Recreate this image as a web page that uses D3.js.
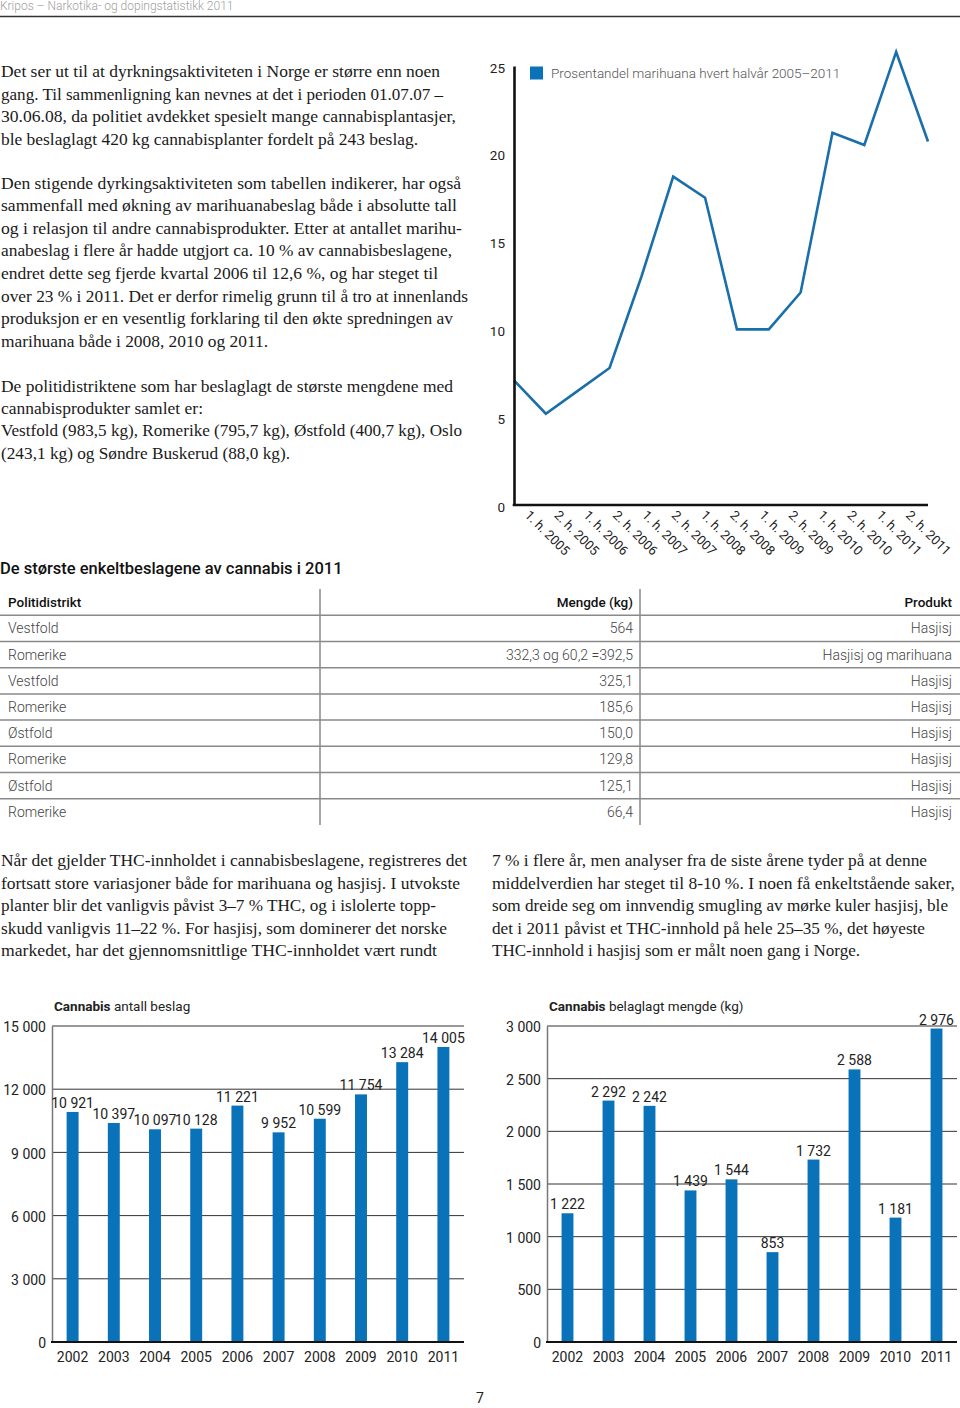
<!DOCTYPE html>
<html><head><meta charset="utf-8">
<script src="https://cdnjs.cloudflare.com/ajax/libs/d3/7.8.5/d3.min.js"></script>
<style>body{margin:0;background:#fff}svg{display:block}</style>
</head><body>
<script>
// ---------- DATA ----------
const halfYears = ["1. h. 2005","2. h. 2005","1. h. 2006","2. h. 2006","1. h. 2007","2. h. 2007","1. h. 2008","2. h. 2008","1. h. 2009","2. h. 2009","1. h. 2010","2. h. 2010","1. h. 2011","2. h. 2011"];
const marihuanaPct = [7.1, 5.2, 6.5, 7.8, 13.0, 18.7, 17.5, 10.0, 10.0, 12.1, 21.2, 20.5, 25.8, 20.7];
const pctTicks = [0, 5, 10, 15, 20, 25];
const legendLabel = "Prosentandel marihuana hvert halvår 2005–2011";

const tableTitle = "De største enkeltbeslagene av cannabis i 2011";
const tableHeaders = ["Politidistrikt", "Mengde (kg)", "Produkt"];
const districts = ["Vestfold","Romerike","Vestfold","Romerike","Østfold","Romerike","Østfold","Romerike"];
const amounts = ["564","332,3 og 60,2 =392,5","325,1","185,6","150,0","129,8","125,1","66,4"];
const products = ["Hasjisj","Hasjisj og marihuana","Hasjisj","Hasjisj","Hasjisj","Hasjisj","Hasjisj","Hasjisj"];

const years = ["2002","2003","2004","2005","2006","2007","2008","2009","2010","2011"];
const seizureCounts = [10921, 10397, 10097, 10128, 11221, 9952, 10599, 11754, 13284, 14005];
const countTicks = [0, 3000, 6000, 9000, 12000, 15000];
const seizureKg = [1222, 2292, 2242, 1439, 1544, 853, 1732, 2588, 1181, 2976];
const kgTicks = [0, 500, 1000, 1500, 2000, 2500, 3000];

const headerText = "Kripos – Narkotika- og dopingstatistikk 2011";
const para1 = ["Det ser ut til at dyrkningsaktiviteten i Norge er større enn noen",
 "gang. Til sammenligning kan nevnes at det i perioden 01.07.07 –",
 "30.06.08, da politiet avdekket spesielt mange cannabisplantasjer,",
 "ble beslaglagt 420 kg cannabisplanter fordelt på 243 beslag."];
const para1W = [439, 442, 455, 417];
const para2 = ["Den stigende dyrkingsaktiviteten som tabellen indikerer, har også",
 "sammenfall med økning av marihuanabeslag både i absolutte tall",
 "og i relasjon til andre cannabisprodukter. Etter at antallet marihu-",
 "anabeslag i flere år hadde utgjort ca. 10 % av cannabisbeslagene,",
 "endret dette seg fjerde kvartal 2006 til 12,6 %, og har steget til",
 "over 23 % i 2011. Det er derfor rimelig grunn til å tro at innenlands",
 "produksjon er en vesentlig forklaring til den økte spredningen av",
 "marihuana både i 2008, 2010 og 2011."];
const para2W = [460, 456, 461, 451, 437, 467, 452, 267];
const para3 = ["De politidistriktene som har beslaglagt de største mengdene med",
 "cannabisprodukter samlet er:",
 "Vestfold (983,5 kg), Romerike (795,7 kg), Østfold (400,7 kg), Oslo",
 "(243,1 kg) og Søndre Buskerud (88,0 kg)."];
const para3W = [452, 202, 461, 289];
const para4 = ["Når det gjelder THC-innholdet i cannabisbeslagene, registreres det",
 "fortsatt store variasjoner både for marihuana og hasjisj. I utvokste",
 "planter blir det vanligvis påvist 3–7 % THC, og i islolerte topp-",
 "skudd vanligvis 11–22 %.  For hasjisj, som dominerer det norske",
 "markedet, har det gjennomsnittlige THC-innholdet vært rundt"];
const para4W = [466, 459, 435, 446, 436];
const para5 = ["7 % i flere år, men analyser fra de siste årene tyder på at denne",
 "middelverdien har steget til 8-10 %.  I noen få enkeltstående saker,",
 "som dreide seg om innvendig smugling av mørke kuler hasjisj, ble",
 "det i 2011 påvist et THC-innhold på hele 25–35 %, det høyeste",
 "THC-innhold i hasjisj som er målt noen gang i Norge."];
const para5W = [435, 463, 456, 433, 368];

// ---------- SETUP ----------
const svg = d3.select("body").append("svg").attr("width", 960).attr("height", 1408);
const SANS = "Roboto, 'Noto Sans', sans-serif";
const SERIF = "'Liberation Serif', 'DejaVu Serif', serif";
const BLUE = "#0a72b9";
const nf = d3.formatLocale({thousands: " ", grouping: [3], decimal: ",", currency: ["", ""]}).format(",");

// header
svg.append("text").attr("x", 0).attr("y", 10).text(headerText)
  .attr("font-family", SANS).attr("font-weight", 300).attr("font-size", 12).attr("fill", "#a0a0a0");
svg.append("line").attr("x1", 0).attr("x2", 960).attr("y1", 16.5).attr("y2", 16.5)
  .attr("stroke", "#333").attr("stroke-width", 1.5);

// body paragraphs
function para(lines, widths, x, y0, lh) {
  svg.append("g").selectAll("text").data(lines).join("text")
    .attr("x", x).attr("y", (d, i) => y0 + i * lh)
    .attr("textLength", (d, i) => widths[i]).attr("lengthAdjust", "spacingAndGlyphs")
    .attr("font-family", SERIF).attr("font-size", 16).attr("fill", "#1a1a1a")
    .text(d => d);
}
para(para1, para1W, 1, 77, 22.5);
para(para2, para2W, 1, 188.5, 22.6);
para(para3, para3W, 1, 391.5, 22.4);
para(para4, para4W, 1, 866, 22.5);
para(para5, para5W, 492, 866, 22.5);

// ---------- LINE CHART ----------
{
  const x = d3.scalePoint().domain(halfYears).range([514, 928]);
  const y = d3.scaleLinear().domain([0, 25]).range([505, 66]);
  const g = svg.append("g");
  g.append("path").datum(marihuanaPct)
    .attr("fill", "none").attr("stroke", "#1a6fab").attr("stroke-width", 2.6).attr("stroke-linejoin", "miter")
    .attr("d", d3.line().x((d, i) => x(halfYears[i])).y(d => y(d)));
  const ax = g.append("g").attr("transform", "translate(514,0)")
    .call(d3.axisLeft(y).tickValues(pctTicks).tickSize(0).tickPadding(9));
  ax.select(".domain").attr("stroke", "#111").attr("stroke-width", 2.6);
  ax.selectAll("text").attr("font-family", SANS).attr("font-size", 13.5).attr("fill", "#222").attr("dy", "0.45em");
  g.append("line").attr("x1", 512.7).attr("x2", 928).attr("y1", y(0)).attr("y2", y(0))
    .attr("stroke", "#111").attr("stroke-width", 2.6);
  const xl = d3.scalePoint().domain(halfYears).range([531, 912]);
  g.selectAll(".xl").data(halfYears).join("text")
    .attr("transform", d => `translate(${xl(d)},${509}) rotate(45)`)
    .attr("dy", "0.75em")
    .attr("font-family", SANS).attr("font-size", 13).attr("fill", "#222")
    .text(d => d);
  g.append("rect").attr("x", 530).attr("y", 66.5).attr("width", 13).attr("height", 13).attr("fill", BLUE);
  g.append("text").attr("x", 551).attr("y", 78).text(legendLabel)
    .attr("font-family", SANS).attr("font-weight", 300).attr("font-size", 13.5).attr("fill", "#555");
}

// ---------- TABLE ----------
{
  svg.append("text").attr("x", 0).attr("y", 574).text(tableTitle)
    .attr("font-family", SANS).attr("font-weight", 500).attr("font-size", 16.5).attr("fill", "#111");
  const rows = districts.map((d, i) => [d, amounts[i], products[i]]);
  const ry = d3.scaleBand().domain(d3.range(rows.length + 1)).range([589, 825]);
  const g = svg.append("g");
  [320, 640].forEach(vx => g.append("line").attr("x1", vx).attr("x2", vx).attr("y1", 589).attr("y2", 825)
    .attr("stroke", "#8a8a8a").attr("stroke-width", 1.5));
  g.selectAll(".hl").data(d3.range(rows.length)).join("line")
    .attr("x1", 0).attr("x2", 960)
    .attr("y1", i => ry(i) + ry.bandwidth()).attr("y2", i => ry(i) + ry.bandwidth())
    .attr("stroke", "#8a8a8a").attr("stroke-width", 1.5);
  const colX = [8, 633, 952], colA = ["start", "end", "end"];
  tableHeaders.forEach((h, c) => g.append("text").attr("x", colX[c]).attr("y", ry(0) + ry.bandwidth() / 2 + 5)
    .attr("text-anchor", colA[c]).text(h)
    .attr("font-family", SANS).attr("font-weight", 500).attr("font-size", 13.5).attr("fill", "#111"));
  rows.forEach((r, i) => r.forEach((v, c) => g.append("text")
    .attr("x", colX[c]).attr("y", ry(i + 1) + ry.bandwidth() / 2 + 5)
    .attr("text-anchor", colA[c]).text(v)
    .attr("font-family", SANS).attr("font-weight", 300).attr("font-size", 14).attr("fill", "#444")));
}

// ---------- BAR CHARTS ----------
function barChart({x0, x1, yTop, yBottom, max, ticks, values, titleBold, titleRest, titleX}) {
  const g = svg.append("g");
  const x = d3.scaleBand().domain(years).range([x0, x1]).paddingInner(0.71).paddingOuter(0.355);
  const y = d3.scaleLinear().domain([0, max]).range([yBottom, yTop]);
  const t = g.append("text").attr("x", titleX).attr("y", 1011)
    .attr("font-family", SANS).attr("font-size", 13.5).attr("fill", "#222");
  t.append("tspan").attr("font-weight", 700).text(titleBold);
  t.append("tspan").attr("font-weight", 400).text(" " + titleRest);
  g.selectAll(".gl").data(ticks.filter(d => d > 0)).join("line")
    .attr("x1", x0).attr("x2", x1).attr("y1", d => y(d)).attr("y2", d => y(d))
    .attr("stroke", "#333").attr("stroke-width", 1);
  const ay = g.append("g").attr("transform", `translate(${x0},0)`)
    .call(d3.axisLeft(y).tickValues(ticks).tickFormat(nf).tickSize(0).tickPadding(6));
  ay.select(".domain").attr("stroke", "#777").attr("stroke-width", 1.5);
  ay.selectAll("text").attr("font-family", SANS).attr("font-size", 14).attr("fill", "#222").attr("dy", "0.4em");
  g.selectAll(".bar").data(values).join("rect")
    .attr("x", (d, i) => x(years[i])).attr("width", x.bandwidth())
    .attr("y", d => y(d)).attr("height", d => y(0) - y(d)).attr("fill", BLUE);
  g.selectAll(".vl").data(values).join("text")
    .attr("x", (d, i) => x(years[i]) + x.bandwidth() / 2).attr("y", d => y(d) - 4)
    .attr("text-anchor", "middle").attr("font-family", SANS).attr("font-size", 14).attr("fill", "#222")
    .text(d => nf(d));
  g.append("line").attr("x1", x0 - 1).attr("x2", x1).attr("y1", y(0)).attr("y2", y(0))
    .attr("stroke", "#111").attr("stroke-width", 2.2);
  g.selectAll(".xl").data(years).join("text")
    .attr("x", d => x(d) + x.bandwidth() / 2).attr("y", y(0) + 20)
    .attr("text-anchor", "middle").attr("font-family", SANS).attr("font-size", 14).attr("fill", "#222")
    .text(d => d);
}
barChart({x0: 52, x1: 464, yTop: 1026, yBottom: 1342, max: 15000, ticks: countTicks, values: seizureCounts,
  titleBold: "Cannabis", titleRest: "antall beslag", titleX: 54});
barChart({x0: 547, x1: 957, yTop: 1026, yBottom: 1342, max: 3000, ticks: kgTicks, values: seizureKg,
  titleBold: "Cannabis", titleRest: "belaglagt mengde (kg)", titleX: 549});

svg.append("text").attr("x", 480).attr("y", 1403).attr("text-anchor", "middle").text("7")
  .attr("font-family", SANS).attr("font-size", 14).attr("fill", "#222");
</script>
</body></html>
